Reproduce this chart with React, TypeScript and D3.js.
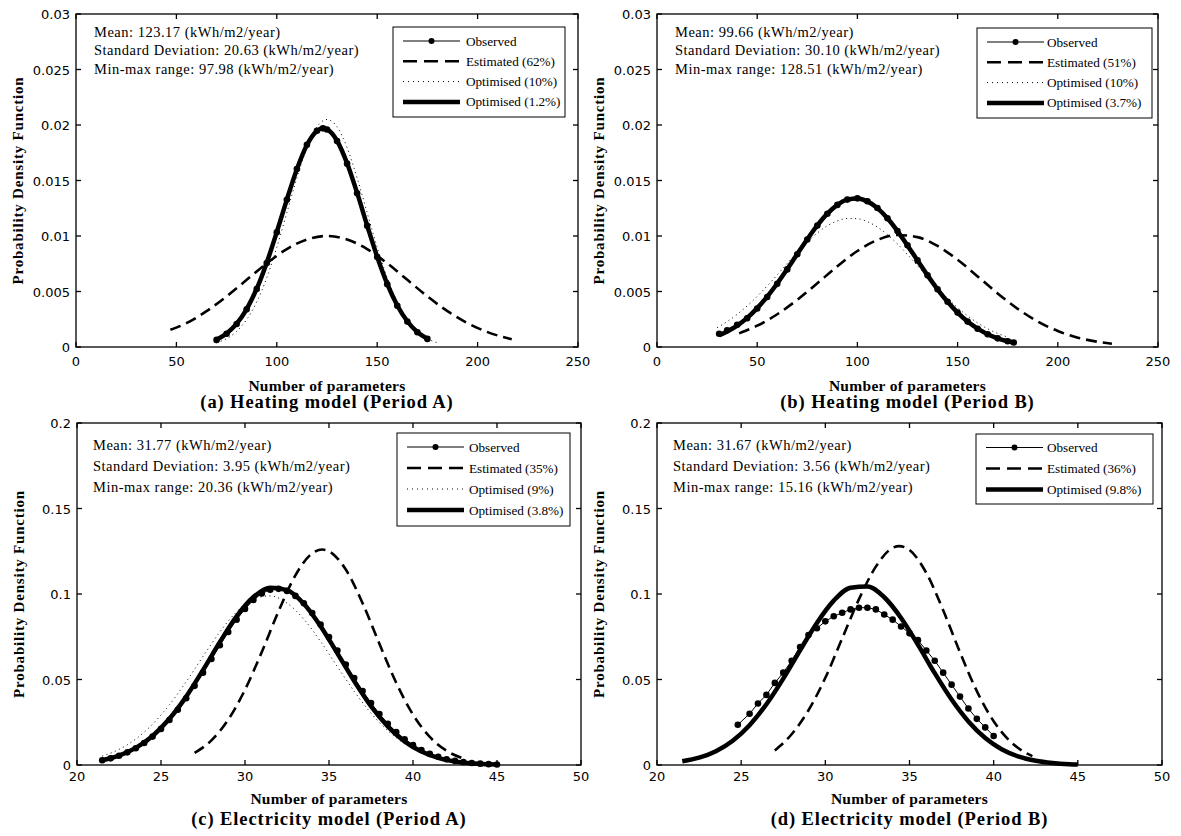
import React from 'react';
import * as d3 from 'd3';

type Pt = [number, number];

// ---------- Panel (a) Heating model (Period A) ----------
const heatA_observed: Pt[] = [
  [70, 0.00064], [75, 0.00119], [80, 0.00207], [85, 0.00339], [90, 0.00522], [95, 0.00757],
  [100, 0.01034], [105, 0.01327], [110, 0.01603], [115, 0.01822], [120, 0.01948], [123, 0.0197],
  [125, 0.0196], [130, 0.01856], [135, 0.01652], [140, 0.01385], [145, 0.01092], [150, 0.0081],
  [155, 0.00565], [160, 0.00371], [165, 0.00229], [170, 0.00133], [175, 0.00073],
];
const heatA_estimated: Pt[] = [
  [47, 0.00155], [55, 0.00215], [65, 0.00323], [75, 0.00456], [85, 0.00605], [95, 0.00754],
  [105, 0.00882], [115, 0.00969], [125, 0.01], [135, 0.00969], [145, 0.00882], [155, 0.00754],
  [165, 0.00605], [175, 0.00456], [185, 0.00323], [195, 0.00215], [205, 0.00134], [217, 0.0007],
];
const heatA_opt10: Pt[] = [
  [70, 0.00038], [75, 0.00075], [80, 0.00141], [85, 0.00248], [90, 0.00406], [95, 0.00624],
  [100, 0.00898], [105, 0.01209], [110, 0.01523], [115, 0.01796], [120, 0.01983], [125, 0.0205],
  [130, 0.01983], [135, 0.01796], [140, 0.01523], [145, 0.01209], [150, 0.00898], [155, 0.00624],
  [160, 0.00406], [165, 0.00248], [170, 0.00141], [175, 0.00075], [180, 0.00038],
];
const heatA_opt12: Pt[] = [
  [70, 0.00066], [75, 0.00121], [80, 0.0021], [85, 0.00342], [90, 0.00525], [95, 0.0076],
  [100, 0.01036], [105, 0.01328], [110, 0.01602], [115, 0.0182], [120, 0.01946], [123, 0.0197],
  [125, 0.01961], [130, 0.01858], [135, 0.01655], [140, 0.01388], [145, 0.01095], [150, 0.00813],
  [155, 0.00568], [160, 0.00374], [165, 0.00232], [170, 0.00135], [175, 0.00075],
];

// ---------- Panel (b) Heating model (Period B) ----------
const heatB_observed: Pt[] = [
  [31, 0.0012], [35, 0.0015], [40, 0.002], [45, 0.00259], [50, 0.00347], [55, 0.00451],
  [60, 0.00569], [65, 0.00699], [70, 0.00835], [75, 0.00969], [80, 0.01094], [85, 0.012],
  [90, 0.0128], [95, 0.01328], [100, 0.01339], [105, 0.01313], [110, 0.01252], [115, 0.0116],
  [120, 0.01045], [125, 0.00916], [130, 0.0078], [135, 0.00646], [140, 0.0052], [145, 0.00407],
  [150, 0.0031], [155, 0.00229], [160, 0.00165], [165, 0.00115], [170, 0.00078], [175, 0.00052],
  [178, 0.0004],
];
const heatB_estimated: Pt[] = [
  [41, 0.00123], [50, 0.00192], [60, 0.00295], [70, 0.00425], [80, 0.00574], [90, 0.00727],
  [100, 0.00865], [110, 0.00964], [120, 0.01009], [130, 0.0099], [140, 0.0091], [150, 0.00786],
  [160, 0.00636], [170, 0.00483], [180, 0.00344], [190, 0.00229], [200, 0.00144], [210, 0.00084],
  [220, 0.00047], [227, 0.0003],
];
const heatB_opt10: Pt[] = [
  [30, 0.00174], [35, 0.00229], [40, 0.00294], [45, 0.0037], [50, 0.00456], [55, 0.00551],
  [60, 0.0065], [65, 0.00753], [70, 0.00853], [75, 0.00945], [80, 0.01027], [85, 0.01092],
  [90, 0.01136], [95, 0.01158], [100, 0.01156], [105, 0.01129], [110, 0.0108], [115, 0.01012],
  [120, 0.00928], [125, 0.00833], [130, 0.00732], [135, 0.0063], [140, 0.00531], [145, 0.00438],
  [150, 0.00354], [155, 0.0028], [160, 0.00217], [165, 0.00164], [170, 0.00122], [175, 0.00089],
];
const heatB_opt37: Pt[] = [
  [31, 0.00105], [35, 0.0014], [40, 0.00192], [45, 0.00262], [50, 0.0035], [55, 0.00454],
  [60, 0.00572], [65, 0.00702], [70, 0.00838], [75, 0.00971], [80, 0.01095], [85, 0.01201],
  [90, 0.01281], [95, 0.01328], [100, 0.01338], [105, 0.01312], [110, 0.01251], [115, 0.01159],
  [120, 0.01044], [125, 0.00915], [130, 0.00779], [135, 0.00645], [140, 0.0052], [145, 0.00407],
  [150, 0.0031], [155, 0.00229], [160, 0.00165], [165, 0.00115], [170, 0.00078], [175, 0.00052],
  [178, 0.0004],
];

// ---------- Panel (c) Electricity model (Period A) ----------
const elecA_observed: Pt[] = [
  [21.5, 0.0028], [22, 0.0039], [22.5, 0.0054], [23, 0.0074], [23.5, 0.0098], [24, 0.0129],
  [24.5, 0.0166], [25, 0.0211], [25.5, 0.0263], [26, 0.0323], [26.5, 0.039], [27, 0.0463],
  [27.5, 0.054], [28, 0.062], [28.5, 0.07], [29, 0.0778], [29.5, 0.085], [30, 0.0913],
  [30.5, 0.0965], [31, 0.1003], [31.5, 0.1025], [32, 0.103], [32.5, 0.1018], [33, 0.0989],
  [33.5, 0.0946], [34, 0.0889], [34.5, 0.0822], [35, 0.0748], [35.5, 0.0669], [36, 0.0588],
  [36.5, 0.0509], [37, 0.0433], [37.5, 0.0362], [38, 0.0298], [38.5, 0.0241], [39, 0.0192],
  [39.5, 0.015], [40, 0.0116], [40.5, 0.0088], [41, 0.0065], [41.5, 0.0048], [42, 0.0034],
  [42.5, 0.0024], [43, 0.0017], [43.5, 0.0012], [44, 0.0008], [44.5, 0.0005], [45, 0.0003],
];
const elecA_estimated: Pt[] = [
  [27, 0.0071], [28, 0.0144], [29, 0.0265], [30, 0.044], [31, 0.0661], [32, 0.09], [33, 0.1109],
  [34, 0.1238], [34.6, 0.126], [35, 0.125], [36, 0.1143], [37, 0.0946], [38, 0.0709],
  [39, 0.0481], [40, 0.0295], [41, 0.0164], [42, 0.0083], [43, 0.0038],
];
const elecA_opt9: Pt[] = [
  [21.5, 0.0052], [22.5, 0.0091], [23.5, 0.0152], [24.5, 0.0239], [25.5, 0.0352], [26.5, 0.0487],
  [27.5, 0.0635], [28.5, 0.0778], [29.5, 0.0896], [30.5, 0.0971], [31.5, 0.0989], [32.5, 0.0947],
  [33.5, 0.0853], [34.5, 0.0722], [35.5, 0.0575], [36.5, 0.0431], [37.5, 0.0303], [38.5, 0.0201],
  [39.5, 0.0125], [40.5, 0.0073], [41.5, 0.004], [42.5, 0.0021], [43.5, 0.001], [44.5, 0.0005],
  [45, 0.0003],
];
const elecA_opt38: Pt[] = [
  [21.5, 0.0028], [22.5, 0.0055], [23.5, 0.01], [24.5, 0.017], [25.5, 0.027], [26.5, 0.04],
  [27.5, 0.0555], [28.5, 0.0718], [29.5, 0.0869], [30.5, 0.0982], [31.5, 0.1037], [32.5, 0.1023],
  [33.5, 0.0943], [34.5, 0.0812], [35.5, 0.0653], [36.5, 0.0491], [37.5, 0.0344], [38.5, 0.0226],
  [39.5, 0.0138], [40.5, 0.0079], [41.5, 0.0042], [42.5, 0.0021], [43.5, 0.001], [44.5, 0.0004],
  [45, 0.0003],
];

// ---------- Panel (d) Electricity model (Period B) ----------
const elecB_observed: Pt[] = [
  [24.8, 0.0235], [25.5, 0.03], [26, 0.036], [26.5, 0.041], [27, 0.048], [27.5, 0.054],
  [28, 0.061], [28.5, 0.069], [29, 0.076], [29.5, 0.08], [30, 0.084], [30.5, 0.087],
  [31, 0.089], [31.5, 0.091], [32, 0.092], [32.5, 0.092], [33, 0.091], [33.5, 0.088],
  [34, 0.085], [34.5, 0.081], [35, 0.077], [35.5, 0.073], [36, 0.067], [36.5, 0.061],
  [37, 0.054], [37.5, 0.047], [38, 0.04], [38.5, 0.033], [39, 0.027], [39.5, 0.022], [40, 0.017],
];
const elecB_estimated: Pt[] = [
  [27, 0.0085], [28, 0.018], [29, 0.032], [30, 0.051], [31, 0.074], [32, 0.097], [33, 0.116],
  [34, 0.127], [34.4, 0.128], [35, 0.1257], [36, 0.1123], [37, 0.0905], [38, 0.0659],
  [39, 0.0432], [40, 0.0256], [41, 0.0137], [42, 0.0066], [42.3, 0.0052],
];
const elecB_opt98: Pt[] = [
  [21.5, 0.0022], [22.5, 0.0043], [23.5, 0.0081], [24.5, 0.0142], [25.5, 0.0233], [26.5, 0.0355],
  [27.5, 0.0505], [28.5, 0.0671], [29.5, 0.0831], [30.5, 0.0961], [31.5, 0.1037], [32.5, 0.1044],
  [33.5, 0.0981], [34.5, 0.086], [35.5, 0.0704], [36.5, 0.0537], [37.5, 0.0383], [38.5, 0.0255],
  [39.5, 0.0158], [40.5, 0.0091], [41.5, 0.0049], [42.5, 0.0025], [43.5, 0.0012], [44.5, 0.0005],
  [45, 0.0003],
];

// ---------- Axes ticks ----------
const heatXTicks = [0, 50, 100, 150, 200, 250];
const heatYTicks = [0, 0.005, 0.01, 0.015, 0.02, 0.025, 0.03];
const elecXTicks = [20, 25, 30, 35, 40, 45, 50];
const elecYTicks = [0, 0.05, 0.1, 0.15, 0.2];

// ---------- Texts ----------
const statsA = ['Mean: 123.17 (kWh/m2/year)', 'Standard Deviation: 20.63 (kWh/m2/year)', 'Min-max range: 97.98 (kWh/m2/year)'];
const statsB = ['Mean: 99.66 (kWh/m2/year)', 'Standard Deviation: 30.10 (kWh/m2/year)', 'Min-max range: 128.51 (kWh/m2/year)'];
const statsC = ['Mean: 31.77 (kWh/m2/year)', 'Standard Deviation: 3.95 (kWh/m2/year)', 'Min-max range: 20.36 (kWh/m2/year)'];
const statsD = ['Mean: 31.67 (kWh/m2/year)', 'Standard Deviation: 3.56 (kWh/m2/year)', 'Min-max range: 15.16 (kWh/m2/year)'];

const legendA = ['Observed', 'Estimated (62%)', 'Optimised (10%)', 'Optimised (1.2%)'];
const legendB = ['Observed', 'Estimated (51%)', 'Optimised (10%)', 'Optimised (3.7%)'];
const legendC = ['Observed', 'Estimated (35%)', 'Optimised (9%)', 'Optimised (3.8%)'];
const legendD = ['Observed', 'Estimated (36%)', 'Optimised (9.8%)'];

const titles = ['(a) Heating model (Period A)', '(b) Heating model (Period B)', '(c) Electricity model (Period A)', '(d) Electricity model (Period B)'];
const xLabel = 'Number of parameters';
const yLabel = 'Probability Density Function';

type Kind = 'observed' | 'estimated' | 'dotted' | 'thick';

interface PanelCfg {
  x0: number; y0: number; w: number; h: number;
  xDomain: [number, number]; yDomain: [number, number];
  xTicks: number[]; yTicks: number[];
  series: { kind: Kind; data: Pt[] }[];
  legendLabels: string[]; legendKinds: Kind[];
  legendBox: { x: number; y: number; w: number; h: number; first: number; row: number; sx: number; sl: number; tx: number };
  stats: string[]; statsX: number; statsY: number; statsRow: number;
  title: string;
  tickLabelDy: number; xLabelDy: number; titleDy: number;
}

const SERIF = '"Liberation Serif", "Times New Roman", serif';
const SANS = '"DejaVu Sans", sans-serif';

function strokeProps(kind: Kind) {
  switch (kind) {
    case 'estimated': return { stroke: '#000', strokeWidth: 2.6, strokeDasharray: '11,6', fill: 'none' };
    case 'dotted': return { stroke: '#000', strokeWidth: 1, strokeDasharray: '1,3.5', fill: 'none' };
    case 'thick': return { stroke: '#000', strokeWidth: 4.5, fill: 'none' };
    default: return { stroke: '#000', strokeWidth: 1, fill: 'none' };
  }
}

function Panel({ cfg }: { cfg: PanelCfg }) {
  const { x0, y0, w, h } = cfg;
  const xs = d3.scaleLinear().domain(cfg.xDomain).range([x0, x0 + w]);
  const ys = d3.scaleLinear().domain(cfg.yDomain).range([y0 + h, y0]);
  const smooth = d3.line<Pt>().x(d => xs(d[0])).y(d => ys(d[1])).curve(d3.curveMonotoneX);
  const straight = d3.line<Pt>().x(d => xs(d[0])).y(d => ys(d[1]));
  const tl = 5;
  const order: Kind[] = ['estimated', 'dotted', 'thick', 'observed'];
  const sorted = [...cfg.series].sort((a, b) => order.indexOf(a.kind) - order.indexOf(b.kind));
  const lb = cfg.legendBox;
  return (
    <g>
      {sorted.map((s, i) => (
        <g key={i}>
          <path d={(s.kind === 'observed' ? straight : smooth)(s.data) || ''} {...strokeProps(s.kind)} strokeLinecap="butt" />
          {s.kind === 'observed' && s.data.map((p, j) => (
            <circle key={j} cx={xs(p[0])} cy={ys(p[1])} r={3.3} fill="#000" />
          ))}
        </g>
      ))}
      <rect x={x0} y={y0} width={w} height={h} fill="none" stroke="#000" strokeWidth={1.3} />
      {cfg.xTicks.map((t, i) => (
        <g key={'xt' + i}>
          <line x1={xs(t)} x2={xs(t)} y1={y0 + h} y2={y0 + h - tl} stroke="#000" strokeWidth={1.3} />
          <line x1={xs(t)} x2={xs(t)} y1={y0} y2={y0 + tl} stroke="#000" strokeWidth={1.3} />
          <text x={xs(t)} y={y0 + h + cfg.tickLabelDy} textAnchor="middle" fontFamily={SANS} fontSize={13} fill="#000">{String(t)}</text>
        </g>
      ))}
      {cfg.yTicks.map((t, i) => (
        <g key={'yt' + i}>
          <line x1={x0} x2={x0 + tl} y1={ys(t)} y2={ys(t)} stroke="#000" strokeWidth={1.3} />
          <line x1={x0 + w} x2={x0 + w - tl} y1={ys(t)} y2={ys(t)} stroke="#000" strokeWidth={1.3} />
          <text x={x0 - 6} y={ys(t) + 5} textAnchor="end" fontFamily={SANS} fontSize={13} fill="#000">{String(t)}</text>
        </g>
      ))}
      {cfg.stats.map((s, i) => (
        <text key={'st' + i} x={cfg.statsX} y={cfg.statsY + i * cfg.statsRow} fontFamily={SERIF} fontSize={14.5} letterSpacing={0.5} fill="#000">{s}</text>
      ))}
      <rect x={lb.x} y={lb.y} width={lb.w} height={lb.h} fill="#fff" stroke="#000" strokeWidth={1} />
      {cfg.legendLabels.map((lab, i) => {
        const yy = lb.y + lb.first + i * lb.row;
        const k = cfg.legendKinds[i];
        return (
          <g key={'lg' + i}>
            <line x1={lb.x + lb.sx} x2={lb.x + lb.sx + lb.sl} y1={yy} y2={yy} {...strokeProps(k)} strokeDasharray={k === 'estimated' ? '14,7' : k === 'dotted' ? '1,4' : undefined} />
            {k === 'observed' && <circle cx={lb.x + lb.sx + lb.sl / 2} cy={yy} r={3} fill="#000" />}
            <text x={lb.x + lb.tx} y={yy + 4.5} fontFamily={SERIF} fontSize={13.2} fill="#000">{lab}</text>
          </g>
        );
      })}
      <text x={x0 + w / 2} y={y0 + h + cfg.xLabelDy} textAnchor="middle" fontFamily={SERIF} fontWeight="bold" fontSize={15.5} letterSpacing={0.3} fill="#000">{xLabel}</text>
      <text x={x0 + w / 2} y={y0 + h + cfg.titleDy} textAnchor="middle" fontFamily={SERIF} fontWeight="bold" fontSize={18.5} letterSpacing={0.9} fill="#000">{cfg.title}</text>
      <text transform={`translate(${x0 - 53},${y0 + h / 2}) rotate(-90)`} textAnchor="middle" fontFamily={SERIF} fontWeight="bold" fontSize={15} letterSpacing={0.8} fill="#000">{yLabel}</text>
    </g>
  );
}

const kinds4: Kind[] = ['observed', 'estimated', 'dotted', 'thick'];
const kinds3: Kind[] = ['observed', 'estimated', 'thick'];

const panels: PanelCfg[] = [
  {
    x0: 76, y0: 14, w: 502, h: 333, xDomain: [0, 250], yDomain: [0, 0.03], xTicks: heatXTicks, yTicks: heatYTicks,
    series: [
      { kind: 'observed', data: heatA_observed }, { kind: 'estimated', data: heatA_estimated },
      { kind: 'dotted', data: heatA_opt10 }, { kind: 'thick', data: heatA_opt12 },
    ],
    legendLabels: legendA, legendKinds: kinds4,
    legendBox: { x: 393, y: 27, w: 172, h: 90, first: 14, row: 20.3, sx: 10, sl: 57, tx: 73 },
    stats: statsA, statsX: 94, statsY: 37, statsRow: 18.3, title: titles[0],
    tickLabelDy: 19, xLabelDy: 44, titleDy: 61,
  },
  {
    x0: 657, y0: 14, w: 501, h: 333, xDomain: [0, 250], yDomain: [0, 0.03], xTicks: heatXTicks, yTicks: heatYTicks,
    series: [
      { kind: 'observed', data: heatB_observed }, { kind: 'estimated', data: heatB_estimated },
      { kind: 'dotted', data: heatB_opt10 }, { kind: 'thick', data: heatB_opt37 },
    ],
    legendLabels: legendB, legendKinds: kinds4,
    legendBox: { x: 977, y: 28, w: 175, h: 90, first: 14, row: 20.3, sx: 10, sl: 57, tx: 70 },
    stats: statsB, statsX: 675, statsY: 37, statsRow: 18.3, title: titles[1],
    tickLabelDy: 19, xLabelDy: 44, titleDy: 61,
  },
  {
    x0: 77, y0: 423, w: 504, h: 342, xDomain: [20, 50], yDomain: [0, 0.2], xTicks: elecXTicks, yTicks: elecYTicks,
    series: [
      { kind: 'observed', data: elecA_observed }, { kind: 'estimated', data: elecA_estimated },
      { kind: 'dotted', data: elecA_opt9 }, { kind: 'thick', data: elecA_opt38 },
    ],
    legendLabels: legendC, legendKinds: kinds4,
    legendBox: { x: 397, y: 433, w: 173, h: 93, first: 14, row: 21, sx: 10, sl: 57, tx: 72 },
    stats: statsC, statsX: 93, statsY: 450, statsRow: 21, title: titles[2],
    tickLabelDy: 16, xLabelDy: 39, titleDy: 60,
  },
  {
    x0: 657, y0: 423, w: 505, h: 342, xDomain: [20, 50], yDomain: [0, 0.2], xTicks: elecXTicks, yTicks: elecYTicks,
    series: [
      { kind: 'observed', data: elecB_observed }, { kind: 'estimated', data: elecB_estimated },
      { kind: 'thick', data: elecB_opt98 },
    ],
    legendLabels: legendD, legendKinds: kinds3,
    legendBox: { x: 976, y: 434, w: 177, h: 70, first: 13.5, row: 21, sx: 10, sl: 57, tx: 71 },
    stats: statsD, statsX: 673, statsY: 450, statsRow: 21, title: titles[3],
    tickLabelDy: 16, xLabelDy: 39, titleDy: 60,
  },
];

export default function App() {
  return (
    <svg width={1181} height={836} viewBox="0 0 1181 836" style={{ position: 'absolute', left: 0, top: 0, background: '#fff' }}>
      <rect x={0} y={0} width={1181} height={836} fill="#fff" />
      {panels.map((p, i) => <Panel key={i} cfg={p} />)}
    </svg>
  );
}
